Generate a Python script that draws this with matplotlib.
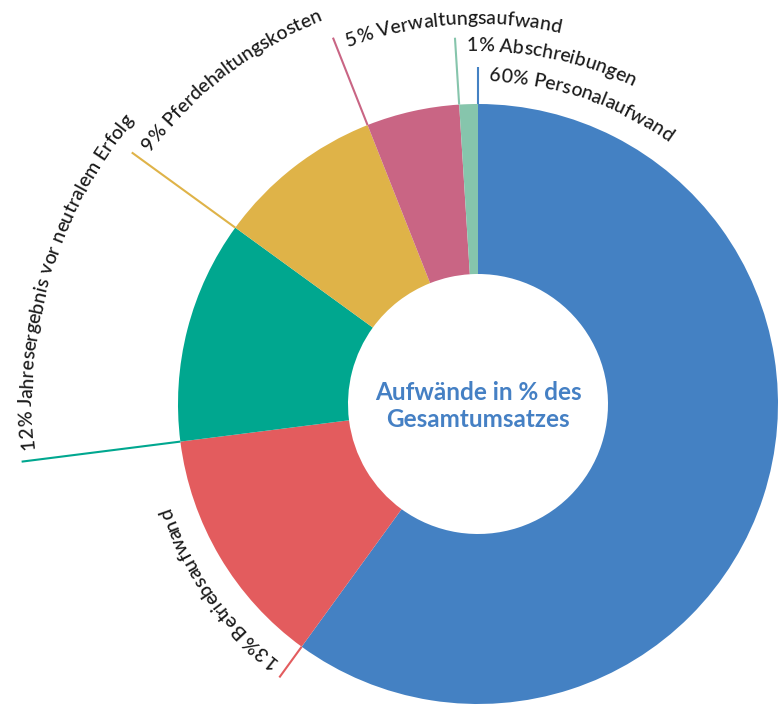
import numpy as np
import matplotlib.pyplot as plt
from matplotlib.font_manager import FontProperties, findfont, get_font

# slices, clockwise from 12 o'clock
names = ["Personalaufwand", "Betriebsaufwand", "Jahresergebnis vor neutralem Erfolg",
         "Pferdehaltungskosten", "Verwaltungsaufwand", "Abschreibungen"]
values = [60, 13, 12, 9, 5, 1]
colors = ["#4481C3", "#E35C5E", "#00A78F", "#DFB348", "#C96584", "#86C5AC"]
# length of the leader line beyond the ring (px)
leader = [37, 38, 160, 128, 94, 67]

title = "Aufwände in % des\nGesamtumsatzes"

W, H = 778, 706
cx, cy = 478, H - 404
R, ring = 300, 170
label_size = 14
label_font = "Lato"


def arc_text(ax, text, r, theta0, size, color, start=11):
    # write text along a circle, going clockwise from angle theta0
    prop = FontProperties(family=label_font, size=size, weight="medium")
    font = get_font(findfont(prop))
    font.set_size(size, 100)
    pos = start
    prev = None
    for ch in text:
        idx = font.get_char_index(ord(ch))
        if prev is not None:
            pos += font.get_kerning(prev, idx, 0) / 64
        adv = font.load_char(ord(ch)).linearHoriAdvance / 65536
        phi0 = theta0 - np.degrees(pos / r)
        phi_mid = theta0 - np.degrees((pos + adv / 2) / r)
        x = cx + r * np.cos(np.radians(phi0))
        y = cy + r * np.sin(np.radians(phi0))
        if ch != " ":
            ax.text(x, y, ch, rotation=phi_mid - 90, rotation_mode="anchor",
                    ha="left", va="baseline", fontproperties=prop, color=color)
        pos += adv
        prev = idx


fig = plt.figure(figsize=(W / 100, H / 100), dpi=100)
ax = fig.add_axes([0, 0, 1, 1])

ax.pie(values, colors=colors, startangle=90, counterclock=False,
       radius=R, center=(cx, cy),
       wedgeprops=dict(width=ring, linewidth=0))

total = sum(values)
start = 90
for name, v, c, L in zip(names, values, colors, leader):
    t = np.radians(start)
    ax.plot([cx + R * np.cos(t), cx + (R + L) * np.cos(t)],
            [cy + R * np.sin(t), cy + (R + L) * np.sin(t)],
            color=c, lw=1.5, solid_capstyle="butt")
    arc_text(ax, f"{v}% {name}", R + L - 14, start, label_size, "#1a1a1a")
    start -= 360 * v / total

ax.text(cx, cy - 2, title, ha="center", va="center", fontsize=17.5,
        fontfamily="Lato", fontweight="bold", color="#4580C4", linespacing=1.25)

ax.set_xlim(0, W)
ax.set_ylim(0, H)
ax.set_aspect("equal")
ax.axis("off")

fig.savefig("out.png", dpi=100)
